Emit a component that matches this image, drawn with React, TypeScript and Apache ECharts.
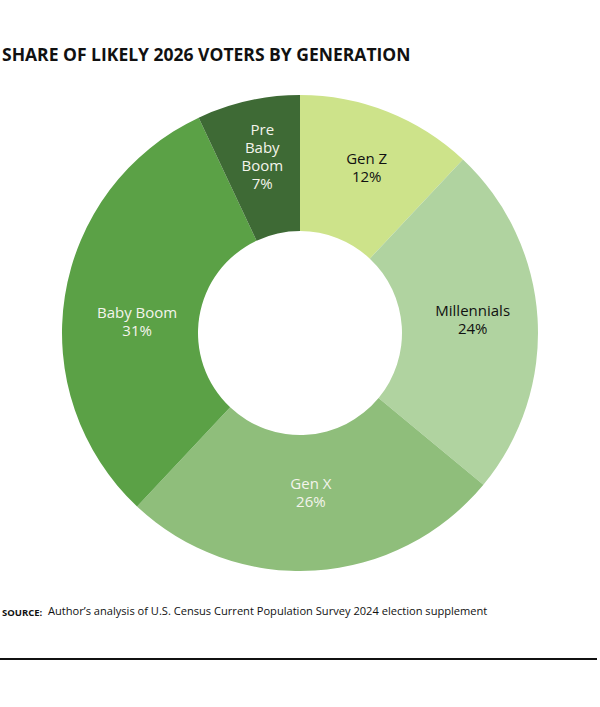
import React, { useEffect, useRef } from "react";
import * as echarts from "echarts";

const categories = ["Gen Z", "Millennials", "Gen X", "Baby Boom", "Pre Baby Boom"];
const shares = [12, 24, 26, 31, 7];
const sliceColors = ["#cde38a", "#b0d3a0", "#8fbe7b", "#5ba146", "#3e6a35"];
const labelColors = ["#111111", "#111111", "#f4f4ec", "#f4f4ec", "#f4f4ec"];
const labelTexts = ["Gen Z", "Millennials", "Gen X", "Baby Boom", "Pre\nBaby\nBoom"];
const labelNudges = [
  [3, -5],
  [0, -3],
  [0, -14],
  [8, 15],
  [0, -8],
];

const titleText = "SHARE OF LIKELY 2026 VOTERS BY GENERATION";
const sourceLead = "SOURCE:";
const sourceText = "Author\u2019s analysis of U.S. Census Current Population Survey 2024 election supplement";

export default function App() {
  const ref = useRef<HTMLDivElement>(null);
  useEffect(() => {
    document.body.style.margin = "0";
    const chart = echarts.init(ref.current!, null, { renderer: "svg" });
    const font = "'Open Sans', 'Noto Sans', sans-serif";
    chart.setOption({
      animation: false,
      backgroundColor: "#ffffff",
      graphic: [
        {
          type: "text",
          left: 2,
          top: 45,
          style: {
            text: titleText,
            font: `bold 17.5px ${font}`,
            fill: "#111111",
          },
        },
        {
          type: "text",
          left: 2,
          top: 607,
          style: {
            text: sourceLead,
            font: `bold 9.5px ${font}`,
            fill: "#111111",
          },
        },
        {
          type: "text",
          left: 48,
          top: 605,
          style: {
            text: sourceText,
            font: `11.1px ${font}`,
            fill: "#111111",
          },
        },
        {
          type: "line",
          shape: { x1: 0, y1: 659, x2: 597, y2: 659 },
          style: { stroke: "#111111", lineWidth: 2 },
        },
      ],
      series: [
        {
          type: "pie",
          center: [300, 333],
          radius: [102, 238],
          startAngle: 90,
          clockwise: true,
          silent: true,
          label: {
            show: true,
            position: "inside",
            fontFamily: font,
            fontSize: 15,
            lineHeight: 18,
          },
          labelLine: { show: false },
          labelLayout: (params: any) => ({
            dx: labelNudges[params.dataIndex][0],
            dy: labelNudges[params.dataIndex][1],
          }),
          data: categories.map((name, i) => ({
            name,
            value: shares[i],
            itemStyle: { color: sliceColors[i] },
            label: {
              color: labelColors[i],
              formatter: `${labelTexts[i]}\n${shares[i]}%`,
            },
          })),
        },
      ],
    });
    return () => chart.dispose();
  }, []);
  return <div ref={ref} style={{ width: 600, height: 707 }} />;
}
